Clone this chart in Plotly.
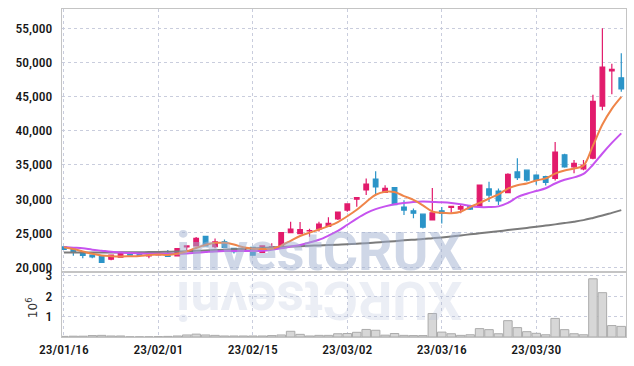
import plotly.graph_objects as go

dates = ["23/01/16","23/01/17","23/01/18","23/01/19","23/01/20","23/01/25","23/01/26","23/01/27","23/01/30","23/01/31",
         "23/02/01","23/02/02","23/02/03","23/02/06","23/02/07","23/02/08","23/02/09","23/02/10","23/02/13","23/02/14",
         "23/02/15","23/02/16","23/02/17","23/02/20","23/02/21","23/02/22","23/02/23","23/02/24","23/02/27","23/02/28",
         "23/03/02","23/03/03","23/03/06","23/03/07","23/03/08","23/03/09","23/03/10","23/03/13","23/03/14","23/03/15",
         "23/03/16","23/03/17","23/03/20","23/03/21","23/03/22","23/03/23","23/03/24","23/03/27","23/03/28","23/03/29",
         "23/03/30","23/03/31","23/04/03","23/04/04","23/04/05","23/04/06","23/04/07","23/04/10","23/04/11","23/04/12"]

open_ = [22950,22650,22250,21750,21600,21150,21450,22100,22050,21650,
         21800,22000,21650,22950,23100,24500,23000,23700,22750,22350,
         22900,22150,22650,23000,25050,24900,25300,25600,25950,27050,
         28350,29950,31300,32900,30950,31650,28800,28250,27750,26900,
         28250,28750,28500,28950,28850,31450,31150,30900,33950,34200,
         33500,33250,33000,36450,34700,34400,35950,43600,48750,47750]
high = [23050,22700,22250,21800,21600,21800,22150,22150,22100,21950,
        21950,22500,22750,23150,24400,24550,24200,24050,22800,22900,
        22950,23150,23500,25100,26650,26600,25600,26650,27300,28150,
        29300,30250,33000,34050,32000,31700,29800,28600,27800,31600,
        28800,28950,29200,29150,32050,32500,31500,33750,35950,34300,
        33600,33400,38350,36600,35700,35700,45250,55000,49800,51350]
low = [22550,21650,21300,21300,20650,21000,21400,21700,21650,21300,
       21750,21500,21600,22500,23000,23050,22750,22850,22000,22300,
       21700,22100,22600,22950,25000,24850,24450,25200,25900,26900,
       28100,28850,30550,30550,30900,29050,27650,27150,25650,26850,
       26400,27950,27900,28350,28800,29550,29100,30850,32750,32550,
       32050,31950,32700,34550,33750,34200,35800,43000,45350,45700]
close = [22600,22250,21700,21500,20700,21750,22100,21750,21700,21750,
         21900,21550,22700,23100,24200,23100,23700,22900,22250,22600,
         21750,23100,22950,25050,25550,25500,25350,26300,26400,28050,
         29250,30200,32150,31750,31550,29150,28350,27900,25850,27950,
         27850,28900,28850,28500,32000,30550,29700,33600,33100,32750,
         32750,32400,36850,34700,35200,34950,44300,49300,49000,46100]

ma5 = [22900,22650,22300,21950,21700,21600,21550,21580,21620,21780,
       21850,21780,21950,22300,22800,23250,23550,23550,23300,22900,
       22700,22650,22700,23150,23850,24550,25050,25500,26000,26600,
       27450,28400,29550,30600,31050,31000,30400,29850,29050,28150,
       27950,27900,28100,28800,29400,30050,30650,31500,32000,32250,
       32700,33000,33700,34150,34450,34900,37800,40900,43200,44950]
ma20 = [22950,22850,22750,22550,22400,22250,22150,22050,22000,21950,
        21950,21950,21950,22000,22100,22200,22300,22350,22350,22350,
        22350,22400,22550,22750,23000,23250,23600,24000,24600,25300,
        26200,27100,27900,28500,28900,29200,29400,29550,29600,29550,
        29500,29400,29200,28950,28800,28800,28900,29400,30250,30750,
        31150,31550,32250,32800,33150,33650,35000,36650,38200,39600]
ma60 = [22150,22150,22150,22150,22150,22150,22160,22170,22180,22200,
        22220,22250,22280,22320,22380,22430,22490,22550,22610,22680,
        22740,22800,22870,22940,23000,23060,23120,23170,23220,23280,
        23340,23420,23500,23600,23700,23800,23920,24020,24110,24230,
        24350,24490,24640,24800,24950,25100,25260,25420,25580,25740,
        25900,26080,26260,26450,26650,26880,27200,27550,27950,28350]

volume_m = [0.03,0.04,0.04,0.07,0.08,0.05,0.05,0.01,0.01,0.01,
            0.02,0.03,0.05,0.10,0.14,0.10,0.08,0.05,0.05,0.05,
            0.05,0.05,0.07,0.10,0.28,0.13,0.05,0.08,0.08,0.16,
            0.17,0.23,0.37,0.33,0.09,0.17,0.08,0.07,0.07,1.15,
            0.24,0.16,0.08,0.11,0.41,0.36,0.16,0.80,0.46,0.26,
            0.18,0.11,0.91,0.36,0.16,0.11,2.85,2.17,0.56,0.52]
volume = [v * 1e6 for v in volume_m]

price_ticks = [20000, 25000, 30000, 35000, 40000, 45000, 50000, 55000]
price_labels = ["20,000", "25,000", "30,000", "35,000", "40,000", "45,000", "50,000", "55,000"]
vol_ticks = [1e6, 2e6, 3e6]
vol_labels = ["1", "2", "3"]
x_tick_idx = [0, 10, 20, 30, 40, 50]

xs = list(range(len(dates)))

UP = "#e21b6c"
DOWN = "#2b94c8"
TICK_FONT = dict(family="Liberation Sans Narrow, Roboto Condensed, DejaVu Sans Condensed, Roboto, sans-serif",
                 size=13.5, color="#161616", weight=500)
GRID = "#c9cddd"
AXLINE = "#c4c4c4"

fig = go.Figure()

fig.add_trace(go.Scatter(x=xs, y=ma60, mode="lines", line=dict(color="#7b7b7b", width=2, shape="spline"),
                         xaxis="x", yaxis="y", hoverinfo="skip"))
fig.add_trace(go.Scatter(x=xs, y=ma20, mode="lines", line=dict(color="#c653ef", width=2, shape="spline"),
                         xaxis="x", yaxis="y", hoverinfo="skip"))
fig.add_trace(go.Scatter(x=xs, y=ma5, mode="lines", line=dict(color="#ef8549", width=2, shape="spline"),
                         xaxis="x", yaxis="y", hoverinfo="skip"))
fig.add_trace(go.Candlestick(x=xs, open=open_, high=high, low=low, close=close,
                             increasing=dict(line=dict(color=UP, width=1.2), fillcolor=UP),
                             decreasing=dict(line=dict(color=DOWN, width=1.2), fillcolor=DOWN),
                             whiskerwidth=0, xaxis="x", yaxis="y"))
fig.add_trace(go.Bar(x=xs, y=volume, marker=dict(color="#d7d7d7", line=dict(color="#ababab", width=1)),
                     width=0.9, xaxis="x2", yaxis="y2"))

xr = [-0.2, 59.5]
common_x = dict(range=xr, domain=[0, 1], tickmode="array", tickvals=x_tick_idx,
                ticktext=[dates[i] for i in x_tick_idx],
                showgrid=True, gridcolor=GRID, griddash="dot", gridwidth=1, zeroline=False,
                showline=True, linecolor=AXLINE, linewidth=1, mirror=True, ticks="",
                automargin=False, rangeslider=dict(visible=False))
fig.update_layout(
    width=634, height=366,
    margin=dict(l=62, r=8, t=9, b=29),
    paper_bgcolor="white", plot_bgcolor="white",
    showlegend=False, hovermode=False,
    xaxis=dict(anchor="y", showticklabels=False, **common_x),
    xaxis2=dict(anchor="y2", tickfont=TICK_FONT, **common_x),
    yaxis=dict(domain=[0.198, 1], range=[19270, 57830], anchor="x",
               tickmode="array", tickvals=price_ticks, ticktext=price_labels, tickfont=TICK_FONT,
               showgrid=True, gridcolor=GRID, griddash="dot", gridwidth=1, zeroline=False,
               showline=True, linecolor=AXLINE, linewidth=1, mirror=True, ticks="",
               ticklabelstandoff=6, automargin=False),
    yaxis2=dict(domain=[0, 0.198], range=[0, 3.18e6], anchor="x2",
                tickmode="array", tickvals=vol_ticks, ticktext=vol_labels, tickfont=TICK_FONT,
                showgrid=True, gridcolor=GRID, griddash="dot", gridwidth=1, zeroline=False,
                showline=True, linecolor=AXLINE, linewidth=1, mirror=True, ticks="",
                ticklabelstandoff=6, automargin=False),
    bargap=0.1,
)

fig.add_annotation(text="10<sup>6</sup>", xref="paper", yref="paper", x=-0.052, y=0.09,
                   xanchor="center", yanchor="middle",
                   showarrow=False, textangle=-90,
                   font=dict(family="DejaVu Sans, sans-serif", size=12, color="#333333"))

WM_FONT = "Roboto, Liberation Sans, sans-serif"
fig.add_annotation(text="<b>investCRUX</b>", xref="paper", yref="paper", x=0.456, y=0.262,
                   xanchor="center", yanchor="middle", showarrow=False,
                   font=dict(family=WM_FONT, size=54, color="rgba(160,175,208,0.5)"))
fig.add_annotation(text="<b>XURCtsevni</b>", xref="paper", yref="paper", x=0.456, y=0.112,
                   xanchor="center", yanchor="middle", showarrow=False, textangle=180,
                   font=dict(family=WM_FONT, size=54, color="rgba(175,188,215,0.25)"))

fig.write_html("out.html", config={"displayModeBar": False},
               post_script="document.body.style.margin='0';document.body.style.overflow='hidden';")
